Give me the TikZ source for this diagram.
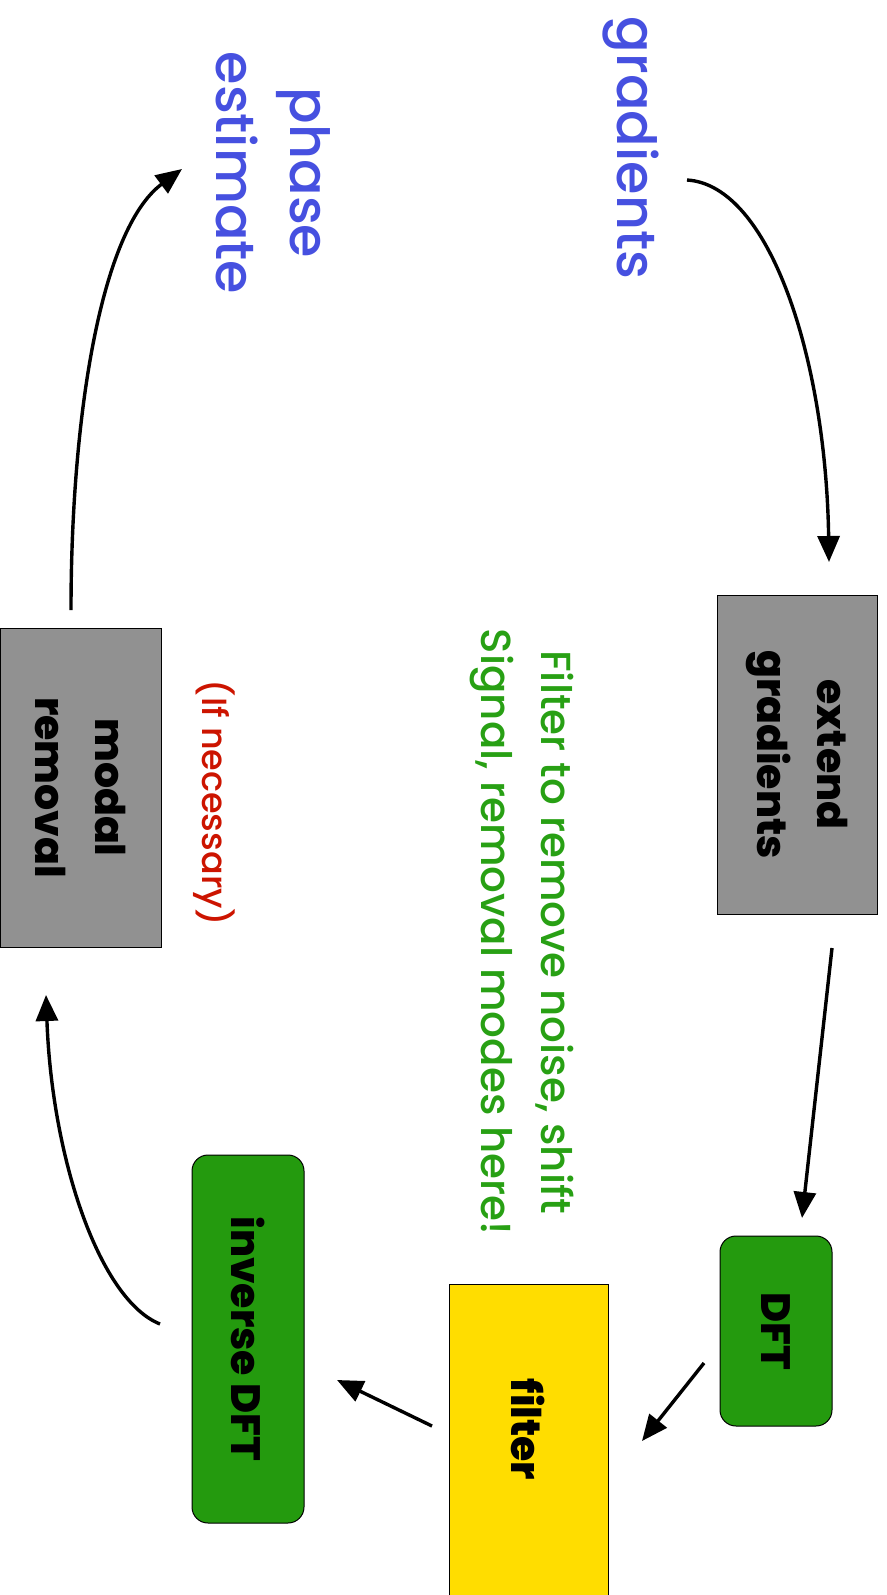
\documentclass[tikz,border=0pt]{standalone}
\usepackage{fontspec}
\setmainfont{Poppins}
\newfontfamily\medfont{Poppins Medium}
\newfontfamily\heavyfont{Poppins ExtraBold}
\usetikzlibrary{arrows.meta}
\definecolor{blu}{RGB}{70,80,224}
\definecolor{boxgray}{RGB}{145,145,145}
\definecolor{boxgreen}{RGB}{36,154,14}
\definecolor{txtgreen}{RGB}{40,160,20}
\definecolor{boxyellow}{RGB}{255,221,0}
\definecolor{txtred}{RGB}{204,20,0}
\begin{document}
\begin{tikzpicture}[x=1pt,y=-1pt,
  box/.style={draw=black, line width=1pt, rotate=-90, align=center, inner sep=0pt,
    font=\heavyfont\fontsize{41}{60}\selectfont},
  graybox/.style={box, fill=boxgray},
  greenbox/.style={box, fill=boxgreen, rounded corners=16pt},
  yellowbox/.style={box, fill=boxyellow},
  bluetext/.style={rotate=-90, text=blu, align=center, inner sep=0pt,
    font=\medfont\fontsize{54}{74}\selectfont},
  note/.style={rotate=-90, align=center, inner sep=0pt},
  arr/.style={line width=3.4pt, -{Triangle[length=26pt,width=22pt]}}]
\useasboundingbox (0,0) rectangle (886,1595);
\clip (0,0) rectangle (886,1595);

% texts
\node[bluetext] (grad) at (631,148) {gradients};
\node[bluetext] (phase) at (273,173) {phase\\estimate};

% boxes
\node[graybox, minimum width=319pt, minimum height=160pt] (ext) at (797,754.5) {extend\\gradients};
\node[greenbox, minimum width=190pt, minimum height=112pt] (dft) at (776,1331) {DFT};
\node[yellowbox, minimum width=321pt, minimum height=159pt] (filt) at (528.5,1444.5) {filter\hspace{30pt}};
\node[greenbox, minimum width=368pt, minimum height=112pt] (inv) at (248,1339) {inverse DFT};
\node[graybox, minimum width=319pt, minimum height=161pt] (modal) at (80.5,787.5) {modal\\removal};

\node[note, text=txtgreen, font=\medfont\fontsize{42}{60}\selectfont] (fnote) at (522,932)
  {Filter to remove noise, shift\\Signal, removal modes here!};
\node[note, text=txtred, font=\medfont\fontsize{35}{40}\selectfont] (ifn) at (214,803) {(If necessary)};

% connector end points
\coordinate (c1s) at (687,180);
\coordinate (c1e) at (829,562);
\coordinate (c2s) at (832,948);
\coordinate (c2e) at (802,1218);
\coordinate (c3s) at (704,1363);
\coordinate (c3e) at (642,1441);
\coordinate (c4s) at (432,1426);
\coordinate (c4e) at (337,1380);
\coordinate (c5s) at (160,1324);
\coordinate (c5e) at (46,995);
\coordinate (c6s) at (71,610);
\coordinate (c6e) at (182,169);

\draw[arr] (c1s) .. controls (770,185) and (826,360) .. (c1e);
\draw[arr] (c2s) -- (c2e);
\draw[arr] (c3s) -- (c3e);
\draw[arr] (c4s) -- (c4e);
\draw[arr] (c5s) .. controls (100,1300) and (52,1160) .. (c5e);
\draw[arr] (c6s) .. controls (71,420) and (100,230) .. (c6e);
\end{tikzpicture}
\end{document}
